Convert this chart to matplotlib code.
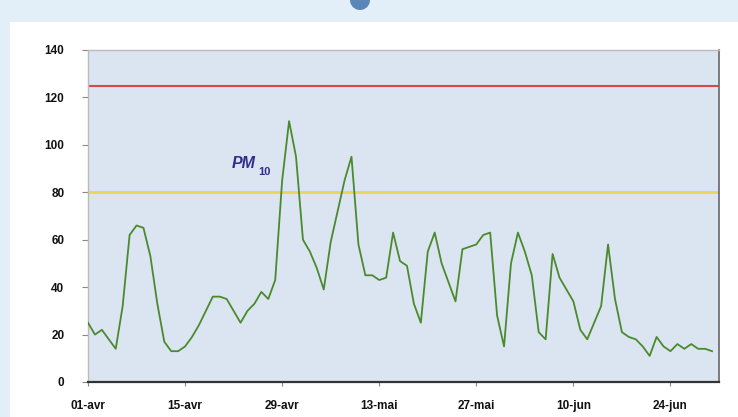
import matplotlib
matplotlib.use("Agg")
import matplotlib.pyplot as plt
import matplotlib.patches as mpatches
import numpy as np

# Daily PM10 values, 01-avr .. 30-jun
pm10 = [25, 20, 22, 18, 14, 32, 62, 66, 65, 53,
        33, 17, 13, 13, 15, 19, 24, 30, 36, 36,
        35, 30, 25, 30, 33, 38, 35, 43, 85, 110,
        95, 60, 55, 48, 39, 59, 72, 85, 95, 58,
        45, 45, 43, 44, 63, 51, 49, 33, 25, 55,
        63, 50, 42, 34, 56, 57, 58, 62, 63, 28,
        15, 50, 63, 55, 45, 21, 18, 54, 44, 39,
        34, 22, 18, 25, 32, 58, 35, 21, 19, 18,
        15, 11, 19, 15, 13, 16, 14, 16, 14, 14, 13]
days = list(range(len(pm10)))
tick_days = [0, 14, 28, 42, 56, 70, 84]
tick_labels = ["01-avr", "15-avr", "29-avr", "13-mai", "27-mai", "10-jun", "24-jun"]
threshold_red = 125
threshold_yellow = 80
yticks = [0, 20, 40, 60, 80, 100, 120, 140]

fig = plt.figure(figsize=(7.38, 4.17), dpi=100)
fig.patch.set_facecolor("#e3eff8")
# white panel
fig.add_artist(mpatches.Rectangle((10/738, 0), 1, (417-22)/417, transform=fig.transFigure,
                                  facecolor="white", edgecolor="none", zorder=0))
# partial icon at top
fig.add_artist(mpatches.Ellipse((360/738, 1.0), 20/738, 20/417, transform=fig.transFigure,
                                facecolor="#5a86b8", edgecolor="none", zorder=0))

ax = fig.add_axes([88/738, 1-382/417, 631/738, 332/417])
ax.set_facecolor("#dae5f1")
ax.plot(days, pm10, color="#4b8a2c", lw=1.3, zorder=3)
ax.axhline(threshold_red, color="#d9474a", lw=1.5, zorder=2)
ax.axhline(threshold_yellow, color="#e8d755", lw=2.0, zorder=2)

ax.set_xlim(0, 91)
ax.set_ylim(0, 140)
ax.set_yticks(yticks)
ax.set_xticks(tick_days)
ax.set_xticklabels(tick_labels)
for lab in ax.get_xticklabels() + ax.get_yticklabels():
    lab.set_fontfamily("Liberation Sans")
    lab.set_fontweight("bold")
    lab.set_fontsize(8.5)
    lab.set_color("#111111")
ax.tick_params(axis="y", length=4, color="#888888", pad=13)
ax.tick_params(axis="x", length=3, color="#888888", pad=10)

for s in ["top", "left"]:
    ax.spines[s].set_color("#bbbbbb")
    ax.spines[s].set_linewidth(1.0)
ax.spines["right"].set_color("#666666")
ax.spines["right"].set_linewidth(1.2)
ax.spines["bottom"].set_color("#333333")
ax.spines["bottom"].set_linewidth(1.6)

ax.text(20.7, 89, "PM", color="#2d2f8f", fontsize=11.5, fontweight="bold",
        fontstyle="italic", family="Liberation Sans", ha="left", va="bottom", zorder=4)
ax.text(24.6, 86.5, "10", color="#2d2f8f", fontsize=8, fontweight="bold",
        family="Liberation Sans", ha="left", va="bottom", zorder=4)

fig.savefig("out.png", dpi=100, facecolor=fig.get_facecolor())
